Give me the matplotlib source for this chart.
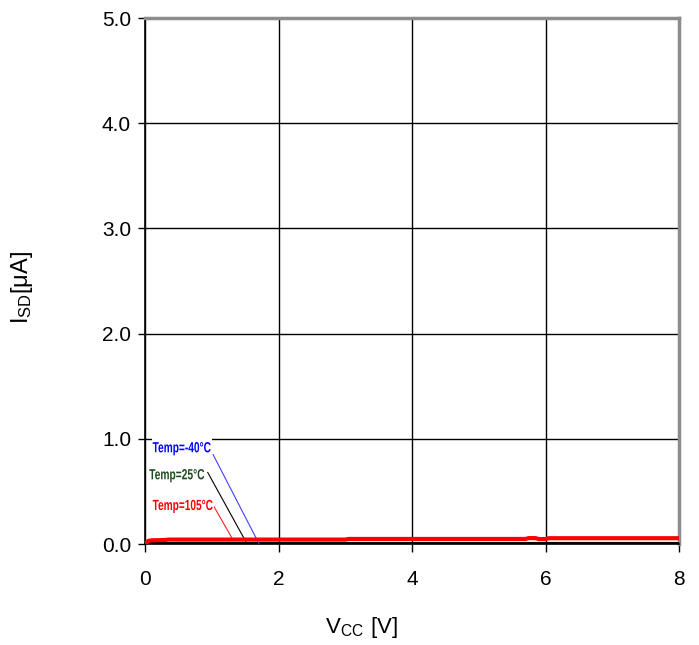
import numpy as np
import matplotlib.pyplot as plt
from matplotlib.textpath import TextPath
from matplotlib.patches import PathPatch, Rectangle
from matplotlib.font_manager import FontProperties
from matplotlib.transforms import Affine2D, IdentityTransform

plt.rcParams['font.family'] = ['Liberation Sans', 'DejaVu Sans']

# measured curves (Vcc [V] -> Isd [uA])
vcc_105 = [0.0, 0.05, 0.1, 0.3, 0.35, 1.0, 2.0, 3.0, 3.05, 4.0, 5.0, 5.7, 5.75, 5.85, 5.9, 6.0, 6.05, 7.0, 8.0]
isd_105 = [0.0, 0.03, 0.035, 0.038, 0.042, 0.042, 0.042, 0.042, 0.048, 0.048, 0.048, 0.048, 0.056, 0.056, 0.047, 0.047, 0.055, 0.055, 0.055]
vcc_25 = [0.0, 0.05, 0.5, 2.0, 4.0, 6.0, 8.0]
isd_25 = [0.0, 0.004, 0.005, 0.005, 0.005, 0.005, 0.005]
vcc_m40 = [0.0, 0.05, 0.5, 2.0, 4.0, 6.0, 8.0]
isd_m40 = [0.0, 0.002, 0.003, 0.003, 0.003, 0.003, 0.003]

labels = ['Temp=-40°C', 'Temp=25°C', 'Temp=105°C']
colors = ['#0000ff', '#1e4a1e', '#ff0000']
leader_col = ['#4040ff', '#000000', '#ff2020']
leader_start = [(1.02, 0.85), (0.94, 0.68), (1.02, 0.37)]
leader_end = [(1.71, 0.0), (1.53, 0.0), (1.30, 0.06)]

W, H = 699, 645
fig = plt.figure(figsize=(W/100, H/100), dpi=100)
ax = fig.add_axes([145/W, 1-544/H, 534/W, 526/H])

ax.plot(vcc_m40, isd_m40, color='#0000ff', lw=2.2, zorder=3)
ax.plot(vcc_25, isd_25, color='#000000', lw=2.2, zorder=3)
ax.plot(vcc_105, isd_105, color='#ff0000', lw=3, zorder=4)

for lc, s, e in zip(leader_col, leader_start, leader_end):
    ax.plot([s[0], e[0]], [s[1], e[1]], color=lc, lw=0.8, zorder=3)

ax.set_xlim(0, 8)
ax.set_ylim(0, 5)
ax.set_xticks([0, 2, 4, 6, 8])
ax.set_yticks(np.arange(0, 5.01, 1.0))
ax.set_yticklabels(['%.1f' % v for v in np.arange(0, 5.01, 1.0)])
ax.grid(True, color='black', lw=1.0)
ax.tick_params(axis='y', direction='out', length=5, width=1, pad=5, labelsize=15)
ax.tick_params(axis='x', direction='out', length=6, width=1, pad=13, labelsize=15)

for sp in ['left', 'bottom']:
    ax.spines[sp].set_color('black')
    ax.spines[sp].set_linewidth(1.2)
for sp in ['top', 'right']:
    ax.spines[sp].set_color('#8c8c8c')
    ax.spines[sp].set_linewidth(2.5)

# squeezed bold labels (old-style condensed chart text), pixel placement
fp = FontProperties(family='Liberation Sans', weight='bold')
lab_pos = [(152.7, 452.3), (149.3, 479.3), (152.7, 510.0)]  # left, baseline (px from top)
lab_w = [58, 55, 60]
for lab, c, (lx, bl), w in zip(labels, colors, lab_pos, lab_w):
    tp = TextPath((0, 0), lab, size=14.7, prop=fp)
    ext = tp.get_extents()
    sx = w / ext.width
    tr = Affine2D().translate(-ext.x0, 0).scale(sx, 1).translate(lx, H - bl)
    fig.add_artist(Rectangle((lx - 1, H - bl - 3), w + 2, 19, transform=IdentityTransform(),
                             facecolor='white', edgecolor='none', zorder=5))
    fig.add_artist(PathPatch(tr.transform_path(tp), transform=IdentityTransform(),
                             facecolor=c, edgecolor='none', zorder=6))

fig.text(22/W, 1-287/H, r'$\mathregular{I_{SD}[\mu A]}$', rotation=90,
         fontsize=17, ha='center', va='center')
fig.text(362/W, 1-628/H, r'$\mathregular{V_{CC}\ [V]}$',
         fontsize=16, ha='center', va='center')

fig.savefig('out.png', dpi=100)
